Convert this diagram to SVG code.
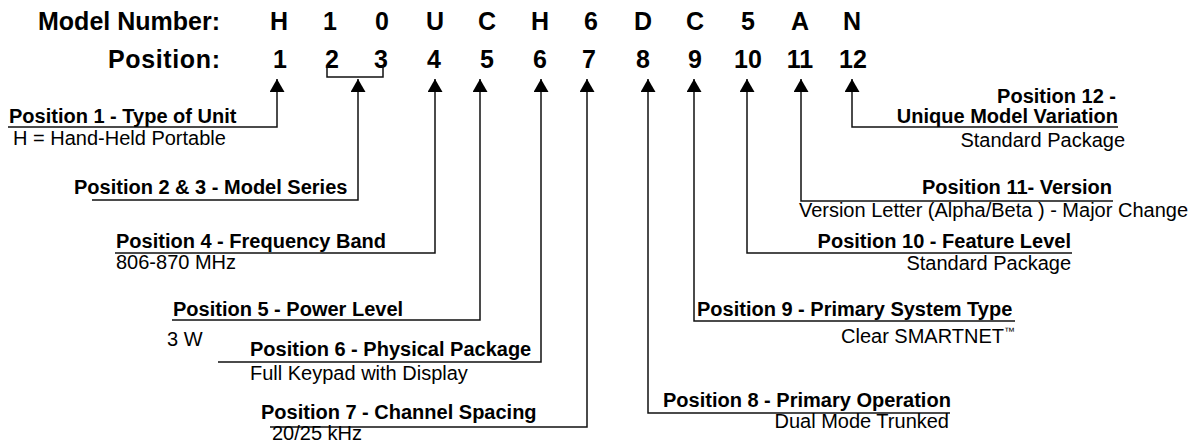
<svg xmlns="http://www.w3.org/2000/svg" width="1195" height="443" viewBox="0 0 1195 443">
  <style>
    text { font-family: "Liberation Sans", Arial, Helvetica, sans-serif; fill: #000; }
    .hdr { font-size: 25px; font-weight: bold; }
    .ttl { font-size: 20px; font-weight: bold; }
    .sub { font-size: 20px; }
    .end { text-anchor: end; }
    .mid { text-anchor: middle; }
    .lead { fill: none; stroke: #111; stroke-width: 1.5; marker-end: url(#tip); }
    .brk { fill: none; stroke: #111; stroke-width: 1.5; }
  </style>
  <defs>
    <marker id="tip" markerUnits="userSpaceOnUse" markerWidth="16" markerHeight="16" refX="13" refY="7.5" orient="auto">
      <path d="M0,0 L13,7.5 L0,15 Z" fill="#000"/>
    </marker>
  </defs>
  <rect width="1195" height="443" fill="#fff"/>

  <!-- header rows -->
  <g id="header">
    <text class="hdr end" x="220" y="30" textLength="182" lengthAdjust="spacing">Model Number:</text>
    <text class="hdr mid" x="279" y="30">H</text>
    <text class="hdr mid" x="330" y="30">1</text>
    <text class="hdr mid" x="382" y="30">0</text>
    <text class="hdr mid" x="435" y="30">U</text>
    <text class="hdr mid" x="487" y="30">C</text>
    <text class="hdr mid" x="540" y="30">H</text>
    <text class="hdr mid" x="591" y="30">6</text>
    <text class="hdr mid" x="643" y="30">D</text>
    <text class="hdr mid" x="695" y="30">C</text>
    <text class="hdr mid" x="748" y="30">5</text>
    <text class="hdr mid" x="800" y="30">A</text>
    <text class="hdr mid" x="852" y="30">N</text>

    <text class="hdr end" x="220" y="68" textLength="112" lengthAdjust="spacing">Position:</text>
    <text class="hdr mid" x="280" y="68">1</text>
    <text class="hdr mid" x="332" y="68">2</text>
    <text class="hdr mid" x="381" y="68">3</text>
    <text class="hdr mid" x="434" y="68">4</text>
    <text class="hdr mid" x="487" y="68">5</text>
    <text class="hdr mid" x="540" y="68">6</text>
    <text class="hdr mid" x="589" y="68">7</text>
    <text class="hdr mid" x="643" y="68">8</text>
    <text class="hdr mid" x="695" y="68">9</text>
    <text class="hdr mid" x="748" y="68">10</text>
    <text class="hdr mid" x="800" y="68">11</text>
    <text class="hdr mid" x="853" y="68">12</text>
  </g>

  <!-- leader lines from each position down to its caption -->
  <g id="connectors">
    <path class="brk" d="M327,66 V77 H383 V66"/>
    <path class="lead" d="M8,127 H277 V79"/>
    <path class="lead" d="M92,200 H358 V79"/>
    <path class="lead" d="M115,253 H435 V79"/>
    <path class="lead" d="M172,320 H480 V79"/>
    <path class="lead" d="M218,362 H541 V79"/>
    <path class="lead" d="M270,427 H587 V79"/>
    <path class="lead" d="M950,413 H648 V79"/>
    <path class="lead" d="M1015,321 H694 V79"/>
    <path class="lead" d="M1072,253 H747 V79"/>
    <path class="lead" d="M1113,201 H801 V79"/>
    <path class="lead" d="M1118,127 H852 V79"/>
  </g>

  <g id="pos1">
    <text class="ttl" x="9" y="123">Position 1 - Type of Unit</text>
    <text class="sub" x="13" y="145">H = Hand-Held Portable</text>
  </g>
  <g id="pos2-3">
    <text class="ttl" x="74" y="194">Position 2 &amp; 3 - Model Series</text>
  </g>
  <g id="pos4">
    <text class="ttl" x="116" y="248">Position 4 - Frequency Band</text>
    <text class="sub" x="116" y="269">806-870 MHz</text>
  </g>
  <g id="pos5">
    <text class="ttl" x="173" y="316">Position 5 - Power Level</text>
    <text class="sub" x="167" y="346">3 W</text>
  </g>
  <g id="pos6">
    <text class="ttl" x="250" y="356">Position 6 - Physical Package</text>
    <text class="sub" x="250" y="380">Full Keypad with Display</text>
  </g>
  <g id="pos7">
    <text class="ttl" x="261" y="419">Position 7 - Channel Spacing</text>
    <text class="sub" x="272" y="440" font-size="19">20/25 kHz</text>
  </g>
  <g id="pos8">
    <text class="ttl" x="663" y="407">Position 8 - Primary Operation</text>
    <text class="sub end" x="949" y="428">Dual Mode Trunked</text>
  </g>
  <g id="pos9">
    <text class="ttl" x="697" y="316">Position 9 - Primary System Type</text>
    <text class="sub end" x="1015" y="343">Clear SMARTNET<tspan font-size="11" dy="-8">™</tspan></text>
  </g>
  <g id="pos10">
    <text class="ttl end" x="1071" y="248">Position 10 - Feature Level</text>
    <text class="sub end" x="1071" y="270">Standard Package</text>
  </g>
  <g id="pos11">
    <text class="ttl end" x="1112" y="194">Position 11- Version</text>
    <text class="sub end" x="1188" y="217">Version Letter (Alpha/Beta ) - Major Change</text>
  </g>
  <g id="pos12">
    <text class="ttl end" x="1116" y="103">Position 12 -</text>
    <text class="ttl end" x="1118" y="123">Unique Model Variation</text>
    <text class="sub end" x="1125" y="147">Standard Package</text>
  </g>
</svg>
